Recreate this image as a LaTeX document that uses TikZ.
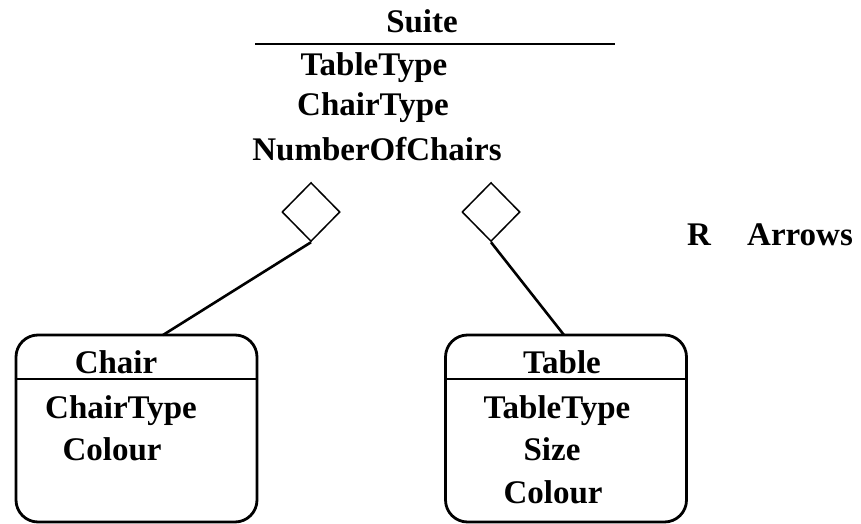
\documentclass[tikz,border=0pt]{standalone}
\usepackage{fontspec}
\setmainfont{Liberation Serif}
\usepackage{tikz}
\usetikzlibrary{calc,positioning,shapes}

\begin{document}
\begin{tikzpicture}[x=1pt,y=-1pt,
	txt/.style={anchor=base,inner sep=0pt,font=\fontsize{33}{33}\selectfont\bfseries},
	agg/.style={diamond,draw,line width=1.5pt,minimum width=58pt,minimum height=59pt,inner sep=0pt},
	cls/.style={draw,line width=2.8pt,rounded corners=22pt,minimum width=241pt,minimum height=187pt,inner sep=0pt},
	link/.style={line width=2.6pt}]
	\useasboundingbox (0,0) rectangle (861,524);
	% Suite
	\node[txt] (suite)  at (422,33)  {Suite};
	\coordinate (ul1) at (255,44);
	\coordinate (ul2) at (615,44);
	\draw[line width=2.4pt] (ul1) -- (ul2);
	\node[txt] (stt)  at (374,76)  {TableType};
	\node[txt] (sct)  at (373,115) {ChairType};
	\node[txt] (snc)  at (377,160) {NumberOfChairs};
	% aggregation diamonds
	\node[agg] (aggc) at (311,212) {};
	\node[agg] (aggt) at (491,212) {};
	% Chair and Table
	\node[cls] (chair) at (136.5,428.5) {};
	\node[cls] (table) at (566,428.5) {};
	\draw[line width=2.2pt] (chair.west |- 0,379) -- (chair.east |- 0,379);
	\draw[line width=2.2pt] (table.west |- 0,379) -- (table.east |- 0,379);
	\node[txt] (cname) at (116,373) {Chair};
	\node[txt] (cct)   at (121,418) {ChairType};
	\node[txt] (ccol)  at (112,460) {Colour};
	\node[txt] (tname) at (562,373) {Table};
	\node[txt] (ttt)   at (557,418) {TableType};
	\node[txt] (tsz)   at (552,460) {Size};
	\node[txt] (tcol)  at (553,503) {Colour};
	% connectors
	\coordinate (cend) at (163,335);
	\coordinate (tend) at (564,335);
	\draw[link] (aggc.south) -- (cend);
	\draw[link] (aggt.south) -- (tend);
	% legend
	\node[txt] (r) at (699,245) {R};
	\node[txt,anchor=base west] (arr) at (747,245) {Arrows};
\end{tikzpicture}
\end{document}
